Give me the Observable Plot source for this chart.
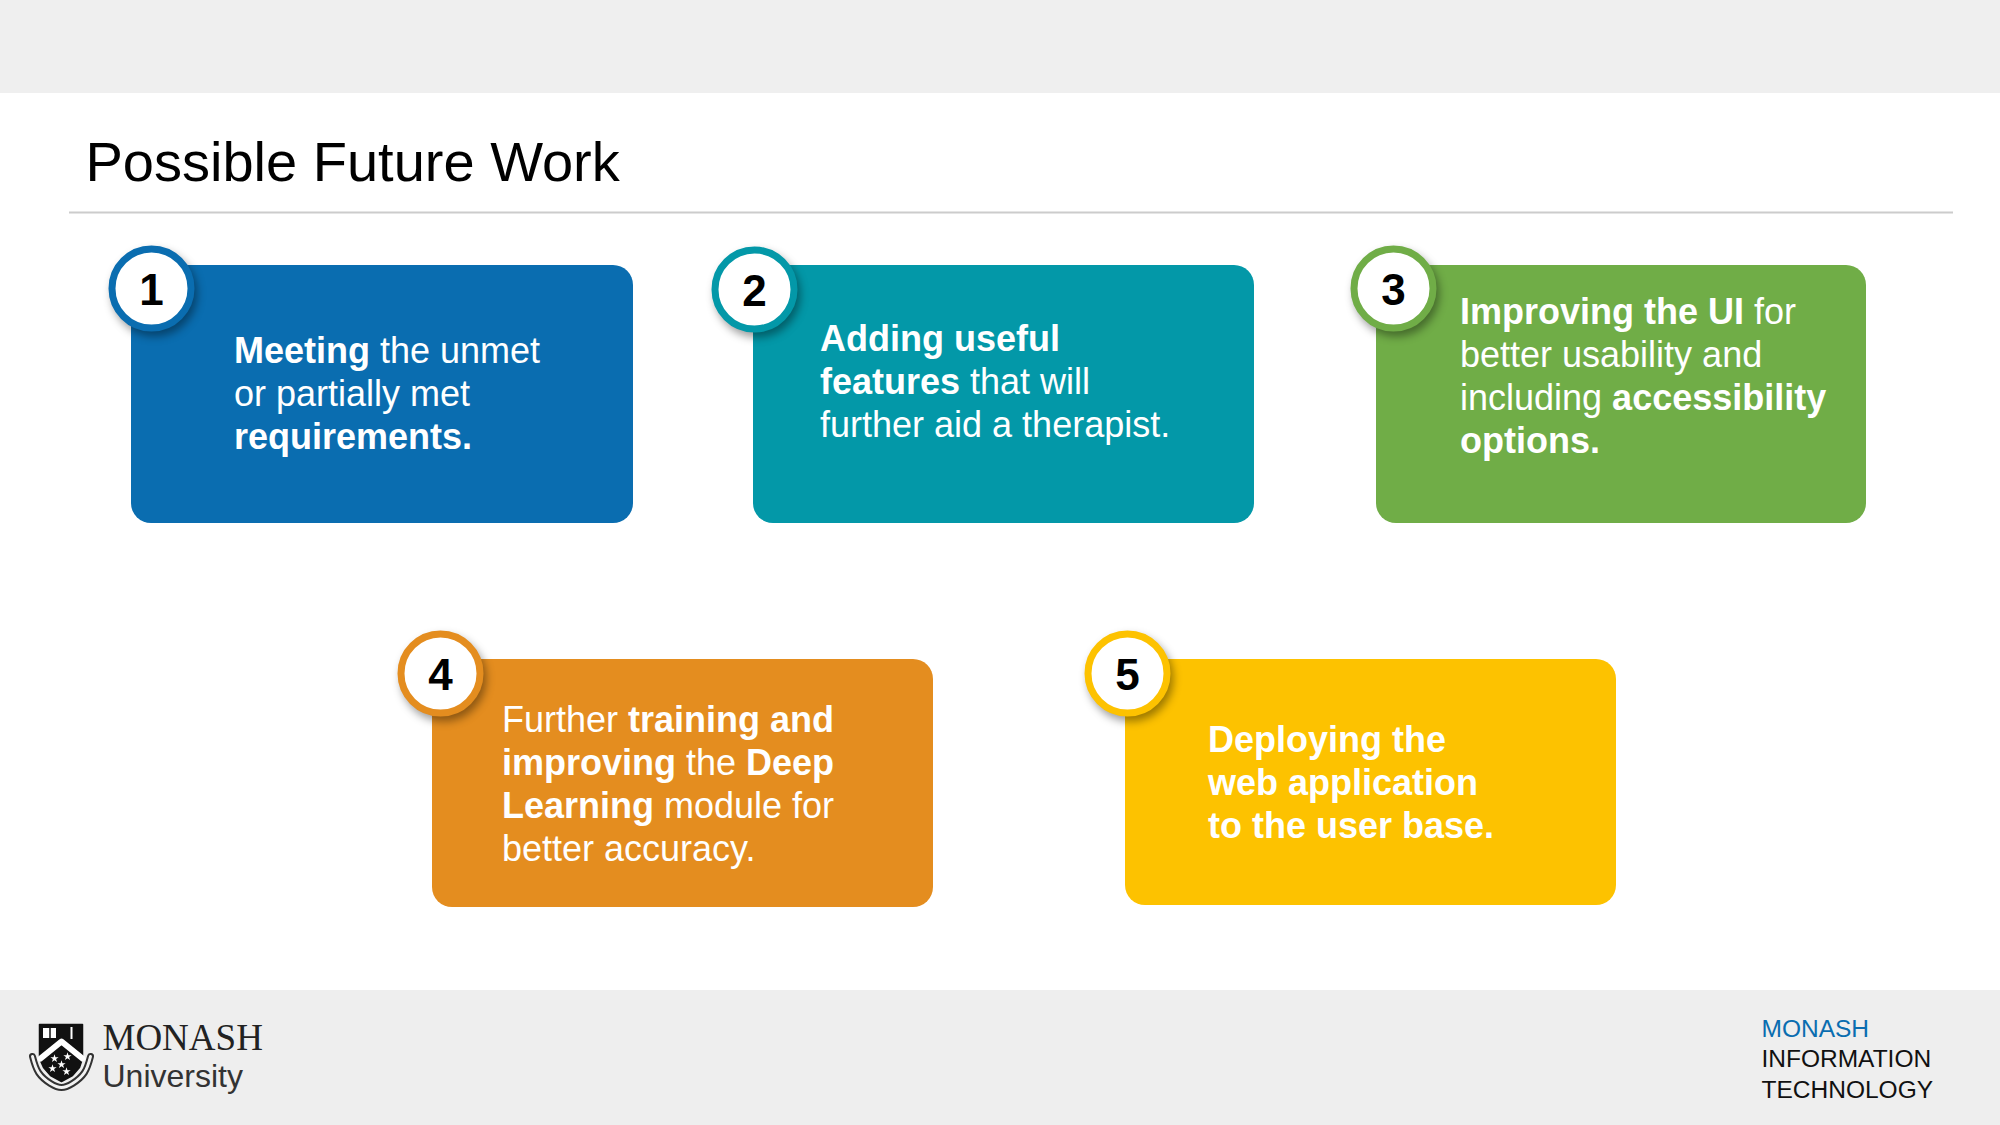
<!DOCTYPE html>
<html>
<head>
<meta charset="utf-8">
<script src="https://cdn.jsdelivr.net/npm/d3@7"></script>
<script src="https://cdn.jsdelivr.net/npm/@observablehq/plot@0.6"></script>
<style>
  html, body { margin: 0; padding: 0; background: #fff; }
  #chart svg { display: block; }
  #chart g[aria-label="dot"] circle { filter: drop-shadow(3px 5px 4px rgba(0,0,0,0.38)); }
</style>
</head>
<body>
<div id="chart"></div>
<script>
// ---------- content ----------
const titleText = "Possible Future Work";
const stepLabels = ["1", "2", "3", "4", "5"];
const stepColors = ["#0a6db0", "#0398a8", "#70ad47", "#e48d1f", "#fdc200"];
// each step: lines -> segments [text, bold]
const stepLines = [
  [[["Meeting", 1], [" the unmet", 0]], [["or partially met", 0]], [["requirements.", 1]]],
  [[["Adding useful", 1]], [["features", 1], [" that will", 0]], [["further aid a therapist.", 0]]],
  [[["Improving the UI", 1], [" for", 0]], [["better usability and", 0]], [["including ", 0], ["accessibility", 1]], [["options.", 1]]],
  [[["Further ", 0], ["training and", 1]], [["improving", 1], [" the ", 0], ["Deep", 1]], [["Learning", 1], [" module for", 0]], [["better accuracy.", 0]]],
  [[["Deploying the", 1]], [["web application", 1]], [["to the user base.", 1]]]
];
const footerRight = ["MONASH", "INFORMATION", "TECHNOLOGY"];
const footerRightColors = ["#0a6db0", "#111111", "#111111"];
const logoWords = ["MONASH", "University"];

// ---------- layout (page geometry) ----------
const layout = [
  {x1: 131, x2: 633, y1: 265, y2: 523, cx: 151, cy: 288, tx: 233.5, ty: 362},
  {x1: 753, x2: 1254, y1: 265, y2: 523, cx: 754, cy: 289, tx: 819.5, ty: 350},
  {x1: 1376, x2: 1866, y1: 265, y2: 523, cx: 1393, cy: 288, tx: 1459.5, ty: 323},
  {x1: 432, x2: 933, y1: 659, y2: 907, cx: 440, cy: 673, tx: 501.5, ty: 731},
  {x1: 1125, x2: 1616, y1: 659, y2: 905, cx: 1127, cy: 673, tx: 1207.5, ty: 751}
];
const bands = [{y1: 0, y2: 93, c: "#efefef"}, {y1: 990, y2: 1125, c: "#eeeeee"}];
const lineGap = 43;
const bodySize = 36;
const FONT = "Liberation Sans, Arial, sans-serif";

// shield logo (decorative)
const shieldOutline = [[39,1024],[82,1024],[82,1058],[79,1067],[72,1075],[61,1081],[50,1075],[43,1067],[39,1058],[39,1024]];
const shieldRibbon = [[32,1056],[38,1072],[50,1083],[61,1087],[72,1083],[84,1072],[90,1056]];
const shieldChevron = [[40,1058],[61,1041],[82,1058]];
const shieldStars = [[54,1058],[67,1056],[61,1064],[52,1068],[66,1071]];
const shieldTop = [{x1: 43, x2: 56, y1: 1028, y2: 1038}];

// ---------- build tables ----------
const ctx = document.createElement("canvas").getContext("2d");
function textWidth(t, bold) {
  ctx.font = `${bold ? "bold " : ""}${bodySize}px "Liberation Sans", Arial, sans-serif`;
  return ctx.measureText(t).width;
}
const boxes = layout.map((L, i) => ({...L, color: stepColors[i], label: stepLabels[i], ny: L.cy + 16}));
const segments = [];
stepLines.forEach((lines, i) => {
  const L = layout[i];
  lines.forEach((segs, j) => {
    let x = L.tx;
    segs.forEach(([t, b]) => {
      let lead = 0;
      const m = t.match(/^ +/);
      if (m) lead = textWidth(m[0], b);
      const trimmed = t.replace(/^ +/, "").replace(/ +$/, "");
      segments.push({x: x + lead, y: L.ty + j * lineGap, text: trimmed, bold: !!b});
      x += textWidth(t, b);
    });
  });
});
const footerRows = footerRight.map((t, i) => ({text: t, fill: footerRightColors[i], x: 1761, y: 1036 + i * 30.5}));

const chart = Plot.plot({
  width: 2000,
  height: 1125,
  margin: 0,
  x: {domain: [0, 2000], range: [0, 2000], axis: null},
  y: {domain: [0, 1125], range: [0, 1125], axis: null},
  color: {type: "identity"},
  style: {background: "#ffffff", fontFamily: FONT},
  marks: [
    Plot.rect(bands, {x1: () => 0, x2: () => 2000, y1: "y1", y2: "y2", fill: "c"}),
    Plot.text([titleText], {x: () => 85, y: () => 180, text: d => d, fontSize: 56, fill: "#000", textAnchor: "start", lineAnchor: "bottom", fontFamily: FONT}),
    Plot.ruleY([212], {x1: 69, x2: 1953, stroke: "#cccccc", strokeWidth: 2}),
    Plot.rect(boxes, {x1: "x1", x2: "x2", y1: "y1", y2: "y2", fill: "color", rx: 20, ry: 20}),
    Plot.dot(boxes, {x: "cx", y: "cy", r: 39.5, fill: "#ffffff", stroke: "color", strokeWidth: 7}),
    Plot.text(boxes, {x: "cx", y: "ny", text: "label", fontSize: 44, fontWeight: "bold", fill: "#000", textAnchor: "middle", lineAnchor: "bottom", fontFamily: FONT}),
    Plot.text(segments.filter(d => !d.bold), {x: "x", y: "y", text: "text", fontSize: bodySize, fill: "#fff", textAnchor: "start", lineAnchor: "bottom", fontFamily: FONT}),
    Plot.text(segments.filter(d => d.bold), {x: "x", y: "y", text: "text", fontSize: bodySize, fontWeight: "bold", fill: "#fff", textAnchor: "start", lineAnchor: "bottom", fontFamily: FONT}),
    // footer right
    Plot.text(footerRows, {x: "x", y: "y", text: "text", fill: "fill", fontSize: 24.5, textAnchor: "start", lineAnchor: "bottom", fontFamily: FONT}),
    // Monash logo
    Plot.line(shieldRibbon, {x: d => d[0], y: d => d[1], stroke: "#333", strokeWidth: 7, curve: "natural"}),
    Plot.line(shieldRibbon, {x: d => d[0], y: d => d[1], stroke: "#f2f2f2", strokeWidth: 3, curve: "natural"}),
    Plot.line(shieldOutline, {x: d => d[0], y: d => d[1], fill: "#111", stroke: "#111", strokeWidth: 1.5}),
    Plot.line(shieldChevron, {x: d => d[0], y: d => d[1], stroke: "#fff", strokeWidth: 6}),
    Plot.rect(shieldTop, {x1: "x1", x2: "x2", y1: "y1", y2: "y2", fill: "#fff"}),
    Plot.ruleX([49.5], {y1: 1028, y2: 1038, stroke: "#111", strokeWidth: 1.5}),
    Plot.ruleX([71], {y1: 1027, y2: 1039, stroke: "#fff", strokeWidth: 2}),
    Plot.dot(shieldStars, {x: d => d[0], y: d => d[1], symbol: "star", r: 2.6, fill: "#fff"}),
    Plot.text([logoWords[0]], {x: () => 102, y: () => 1049, text: d => d, fontSize: 37, fill: "#222", textAnchor: "start", lineAnchor: "bottom", fontFamily: "Liberation Serif, Times New Roman, serif", letterSpacing: "-1px"}),
    Plot.text([logoWords[1]], {x: () => 102, y: () => 1086, text: d => d, fontSize: 32, fill: "#333", textAnchor: "start", lineAnchor: "bottom", fontFamily: FONT, fontWeight: 300})
  ]
});
document.getElementById("chart").appendChild(chart);
</script>
</body>
</html>
